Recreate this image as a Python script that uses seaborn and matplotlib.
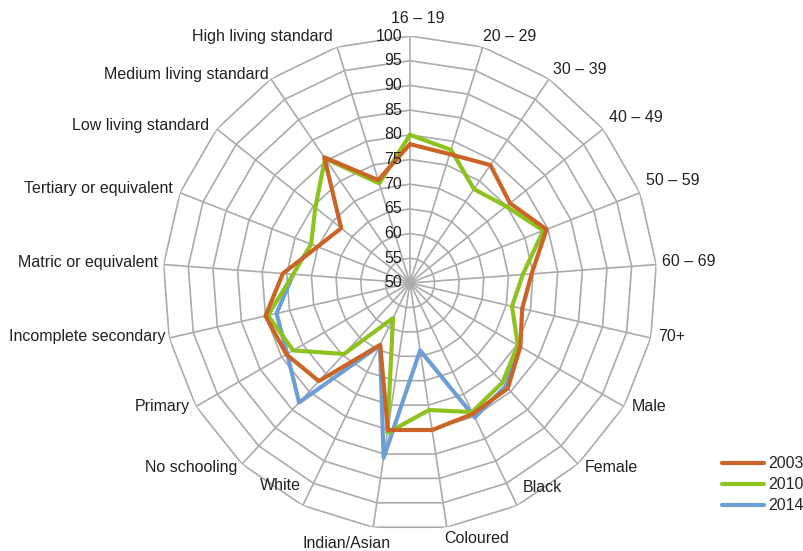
import numpy as np
import pandas as pd
import matplotlib
matplotlib.use("Agg")
import matplotlib.pyplot as plt
from matplotlib.lines import Line2D
import seaborn as sns

# === data ===
categories = ["16 – 19", "20 – 29", "30 – 39", "40 – 49", "50 – 59", "60 – 69", "70+",
              "Male", "Female", "Black", "Coloured", "Indian/Asian", "White",
              "No schooling", "Primary", "Incomplete secondary", "Matric or equivalent",
              "Tertiary or equivalent", "Low living standard", "Medium living standard",
              "High living standard"]
y2003 = [78.1, 77.3, 78.9, 75.9, 79.7, 74.7, 73.3, 75.8, 79.1, 79.4, 80.1,
         80.1, 63.9, 77.1, 78.9, 80.0, 75.8, 70.1, 67.8, 80.8, 71.8]
y2010 = [80.0, 78.2, 73.0, 74.9, 79.0, 72.9, 71.2, 75.2, 77.5, 79.0, 76.0,
         80.7, 57.9, 69.6, 77.3, 79.5, 73.7, 71.5, 74.5, 80.5, 71.1]
nan = np.nan
y2014 = [nan, nan, nan, nan, nan, nan, nan, 75.5, 78.5, 80.2, 63.8,
         85.8, 64.0, 83.0, 78.7, 77.7, 73.7, nan, nan, nan, nan]
years = ["2003", "2010", "2014"]
radial_ticks = list(range(50, 101, 5))

# === styling ===
colors = {"2003": "#CB6527", "2010": "#8DC21F", "2014": "#6D9FD6"}
grid_color = "#ABABAB"
# label offsets in pixels (dx, dy) and horizontal alignment
label_style = [(8, 18, "center"), (0, 10, "left"), (4, 9, "left"), (6, 11, "left"),
               (6, 12, "left"), (6, 3, "left"), (7, 1, "left"), (8, 0, "left"),
               (7, -3, "left"), (6, 18, "left"), (30, -11, "center"), (-27, -16, "center"),
               (-2, 20, "right"), (-5, -3, "right"), (-6, 0, "right"), (-4, 1, "right"),
               (-6, 2, "right"), (-7, 4, "right"), (-8, 3, "right"), (-2, 4, "right"),
               (-4, 10, "right")]

sns.set_style("white")
plt.rcParams["font.family"] = ["Liberation Sans", "DejaVu Sans"]
plt.rcParams["font.size"] = 11.5

n = len(categories)
theta = np.arange(n) * 2 * np.pi / n

fig = plt.figure(figsize=(8.04, 5.51), dpi=100)
ax = fig.add_axes([0.2027, 0.0381, 0.6144, 0.8966], projection="polar")
ax.set_theta_zero_location("N")
ax.set_theta_direction(-1)
ax.set_ylim(50, 100)
ax.grid(False)
ax.set_xticks([])
ax.set_yticks([])
ax.spines["polar"].set_visible(False)
ax.set_facecolor("none")

# polygon grid + spokes
closed = np.append(theta, 2 * np.pi)
for lv in radial_ticks[1:]:
    ax.plot(closed, [lv] * (n + 1), color=grid_color, lw=1.2, zorder=1)
for t in theta:
    ax.plot([t, t], [50, 100], color=grid_color, lw=1.2, zorder=1)

# series (2014 at bottom, 2003 on top)
series = {"2003": y2003, "2010": y2010, "2014": y2014}
for z, yr in zip([2, 3, 4], ["2014", "2010", "2003"]):
    df = pd.DataFrame({"theta": theta, "value": series[yr]})
    if df["value"].notna().all():
        df = pd.concat([df, pd.DataFrame({"theta": [2 * np.pi], "value": [df["value"].iloc[0]]})])
    df = df.dropna()
    sns.lineplot(data=df, x="theta", y="value", sort=False, estimator=None, ax=ax,
                 color=colors[yr], lw=3.0, zorder=z, legend=False)
ax.set_xlabel("")
ax.set_ylabel("")

# radial tick labels
for v in radial_ticks:
    ax.annotate(str(v), xy=(0, v), xytext=(-8, 0), textcoords="offset pixels",
                ha="right", va="center", color="#222222", zorder=10, annotation_clip=False)

# category labels
for t, lab, (dx, dy, ha) in zip(theta, categories, label_style):
    ax.annotate(lab, xy=(t, 100), xytext=(dx, dy), textcoords="offset pixels",
                ha=ha, va="center", color="#222222", annotation_clip=False)

handles = [Line2D([0], [0], color=colors[yr], lw=3.0, solid_capstyle="round") for yr in years]
fig.legend(handles, years, loc="upper left", bbox_to_anchor=(0.898, 0.172),
           frameon=False, borderpad=0, borderaxespad=0, handlelength=2.6,
           handletextpad=0.3, labelspacing=0.38)

fig.savefig("out.png", dpi=100)
plt.close(fig)
